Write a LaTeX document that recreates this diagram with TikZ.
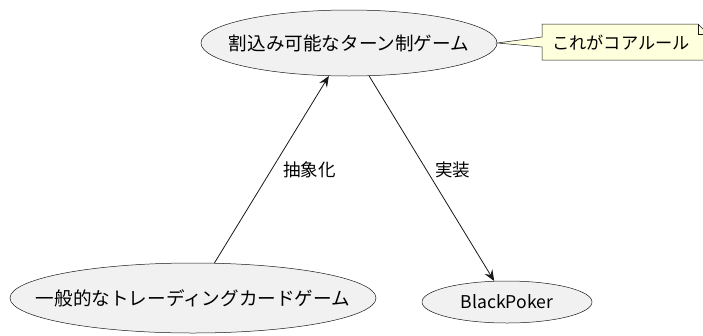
\documentclass[tikz,border=0pt]{standalone}
\usepackage{fontspec}
\setmainfont{Noto Sans CJK JP}
\usetikzlibrary{shapes.geometric,arrows.meta}
\definecolor{ellfill}{HTML}{F1F1F1}
\definecolor{edge}{HTML}{181818}
\definecolor{notefill}{HTML}{FEFFDD}
\tikzset{
  usecase/.style={ellipse, draw=edge, line width=0.5pt, fill=ellfill, inner sep=0pt,
    font=\fontsize{18.6}{21}\selectfont},
  conn/.style={draw=edge, line width=0.8pt, -{Stealth[length=11pt,width=9pt,inset=4pt]}},
  lbl/.style={font=\fontsize{17.5}{20}\selectfont, anchor=west, inner sep=1pt},
  notetext/.style={font=\fontsize{17.2}{20}\selectfont, inner sep=0pt, anchor=west},
}
\begin{document}
\begin{tikzpicture}[x=1pt,y=-1pt]
\useasboundingbox (0,0) rectangle (703,335);
\clip (0,0) rectangle (703,335);
\node[usecase, minimum width=296pt, minimum height=66pt] (turn) at (349,43)
  {\makebox[0pt]{割込み可能なターン制ゲーム}};
\node[usecase, minimum width=366pt, minimum height=70pt] (gen) at (193,298)
  {\makebox[0pt]{一般的なトレーディングカードゲーム}};
\node[usecase, minimum width=170pt, minimum height=42pt, font=\fontsize{17.6}{20}\selectfont] (bp) at (507,302)
  {\makebox[0pt]{BlackPoker}};
% note
\coordinate (ntl) at (542,24);
\filldraw[draw=edge, line width=0.5pt, fill=notefill]
  (turn.east) -- (542,37) -- (ntl) -- (698,24) -- (708,34) -- (708,60) -- (542,60) -- (542,47) -- cycle;
\draw[draw=edge, line width=0.5pt] (698,24) -- (698,34) -- (708,34);
\node[notetext] (note) at (552,43) {これがコアルール};
% connectors
\draw[conn] (gen) -- node[lbl, pos=0.5, xshift=10pt] {抽象化} (turn);
\draw[conn] (turn) -- node[lbl, pos=0.46, xshift=7pt] {実装} (bp);
\end{tikzpicture}
\end{document}
